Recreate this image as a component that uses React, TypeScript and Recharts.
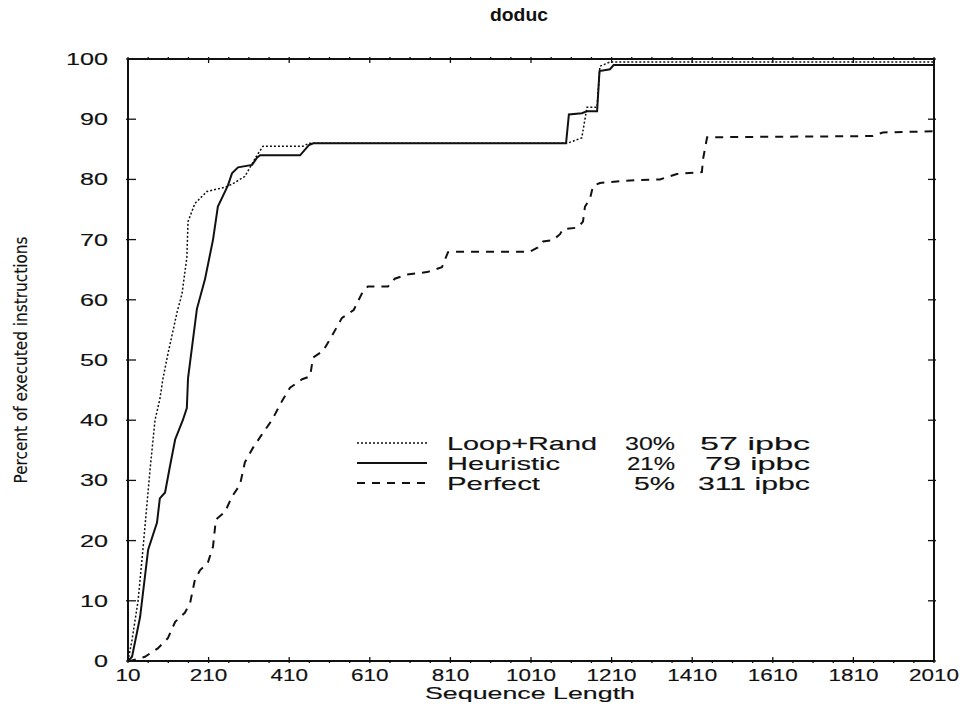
import { LineChart, Line, XAxis, YAxis } from 'recharts'

// [sequence length, percent of executed instructions]
const loopRand: [number, number][] = [
  [10, 0], [20, 3.5], [35, 10], [47, 18.5], [65, 32], [77, 40], [89, 43.5], [97, 47],
  [109, 51], [132, 58], [144, 61], [156, 67], [159, 73], [176, 76], [206, 78], [251, 78.7],
  [268, 79.2], [300, 80.5], [330, 84], [345, 85.5], [444, 85.5], [459, 86], [1100, 86],
  [1136, 86.9], [1149, 92], [1174, 92], [1181, 98.8], [1206, 99.5], [2010, 99.5],
]

const heuristic: [number, number][] = [
  [10, 0], [20, 0.7], [40, 7.3], [60, 18.5], [82, 23], [89, 27], [102, 28], [114, 32.3],
  [127, 36.8], [146, 40], [156, 42], [159, 47], [181, 58.5], [201, 63.4], [221, 70],
  [233, 75.5], [251, 78], [258, 79], [268, 81], [283, 82], [318, 82.4], [330, 83.6],
  [338, 84], [437, 84], [459, 85.7], [470, 86], [1097, 86], [1104, 90.8], [1136, 91],
  [1149, 91.3], [1174, 91.3], [1180, 98], [1206, 98.3], [1215, 99], [2010, 99],
]

const perfect: [number, number][] = [
  [10, 0], [15, 0], [52, 0.7], [84, 2.1], [109, 3.8], [127, 6.5], [151, 8], [164, 9.6],
  [176, 13.5], [189, 15.1], [208, 16.3], [221, 19], [228, 23.5], [251, 24.8], [268, 27.3],
  [288, 29.3], [300, 33], [320, 35.4], [342, 37.6], [367, 40], [394, 43.4], [412, 45.4],
  [442, 46.8], [462, 47.3], [469, 50.4], [494, 51.5], [516, 54], [541, 57], [570, 58.3],
  [590, 61], [605, 62.2], [655, 62.2], [672, 63.5], [702, 64.2], [752, 64.6], [789, 65.4],
  [804, 67.9], [826, 68], [1007, 68], [1027, 68.7], [1040, 69.7], [1064, 69.9], [1082, 70.9],
  [1089, 71.7], [1126, 72], [1139, 73], [1144, 75.5], [1156, 76.7], [1164, 78.9], [1181, 79.4],
  [1231, 79.7], [1280, 79.9], [1330, 80], [1372, 80.9], [1434, 81.2], [1437, 83.4], [1447, 87],
  [1858, 87.2], [1883, 87.8], [2010, 88],
]

const xMajorTicks = [10, 210, 410, 610, 810, 1010, 1210, 1410, 1610, 1810, 2010]
const xTicks = Array.from({ length: 41 }, (_, i) => 10 + i * 50)
const yTicks = [0, 10, 20, 30, 40, 50, 60, 70, 80, 90, 100]

const seriesNames = ['Loop+Rand', 'Heuristic', 'Perfect']
const mispredictRates = ['30%', '21%', '5%']
const ipbcLabels = ['57 ipbc', '79 ipbc', '311 ipbc']

// legend look: line style and stretched text widths per row
const legendStyle = [
  { dash: '2 2', width: 1.5, nameW: 150, pctW: 50, ipbcW: 110 },
  { dash: undefined, width: 2, nameW: 113, pctW: 48, ipbcW: 105 },
  { dash: '8 7', width: 2, nameW: 93, pctW: 41, ipbcW: 112 },
]

const toPoints = (rows: [number, number][]) => rows.map(([x, y]) => ({ x, y }))

const INK = '#111'
const FONT = '"Liberation Sans", Arial, Helvetica, sans-serif'
const textInk = { fill: INK, stroke: INK, strokeWidth: 0.15 }

function bottomTick(p: any) {
  const major = xMajorTicks.includes(p.payload.value)
  const label = String(p.payload.value)
  return (
    <g>
      <line x1={p.x} x2={p.x} y1={p.y} y2={p.y - (major ? 6 : 3)} stroke={INK} strokeWidth={1.3} />
      {major && (
        <text x={p.x} y={p.y + 18} textAnchor="middle" fontSize={16} fontFamily={FONT}
          textLength={label.length * 12.5} lengthAdjust="spacingAndGlyphs" {...textInk}>{label}</text>
      )}
    </g>
  )
}

function topTick(p: any) {
  const major = xMajorTicks.includes(p.payload.value)
  return <line x1={p.x} x2={p.x} y1={p.y} y2={p.y + (major ? 6 : 3)} stroke={INK} strokeWidth={1.3} />
}

function leftTick(p: any) {
  const label = String(p.payload.value)
  return (
    <g>
      <line x1={p.x} x2={p.x + 10} y1={p.y} y2={p.y} stroke={INK} strokeWidth={1.3} />
      <text x={p.x - 18} y={p.y + 6} textAnchor="end" fontSize={17} fontFamily={FONT}
        textLength={label.length * 14} lengthAdjust="spacingAndGlyphs" {...textInk}>{label}</text>
    </g>
  )
}

function rightTick(p: any) {
  return <line x1={p.x} x2={p.x - 8} y1={p.y} y2={p.y} stroke={INK} strokeWidth={1.3} />
}

export default function App() {
  return (
    <div style={{ position: 'absolute', left: 0, top: 0, width: 969, height: 704, background: '#fff' }}>
      <LineChart width={969} height={704} margin={{ top: 0, right: 0, bottom: 0, left: 0 }}>
        <XAxis dataKey="x" type="number" domain={[10, 2010]} ticks={xTicks} interval={0}
          height={43} tickSize={0} tickLine={false} tick={bottomTick}
          axisLine={{ stroke: INK, strokeWidth: 2 }} allowDataOverflow
          label={{
            content: () => (
              <text x={530} y={699} textAnchor="middle" fontSize={17} fontFamily={FONT}
                textLength={210} lengthAdjust="spacingAndGlyphs" {...textInk}>Sequence Length</text>
            ),
          }} />
        <XAxis xAxisId="top" orientation="top" dataKey="x" type="number" domain={[10, 2010]}
          ticks={xTicks} interval={0} height={59} tickSize={0} tickLine={false} tick={topTick}
          axisLine={{ stroke: INK, strokeWidth: 2 }} allowDataOverflow
          label={{
            content: () => (
              <text x={519} y={21} textAnchor="middle" fontSize={18} fontWeight="bold" fontFamily={FONT}
                textLength={58} lengthAdjust="spacingAndGlyphs" fill={INK}>doduc</text>
            ),
          }} />
        <YAxis type="number" domain={[0, 100]} ticks={yTicks} interval={0} width={128}
          tickSize={0} tickLine={false} tick={leftTick}
          axisLine={{ stroke: INK, strokeWidth: 2 }} allowDataOverflow
          label={{
            content: (lp: any) => {
              const vb = lp.viewBox
              return (
                <text transform={`translate(27, ${vb.y + vb.height / 2}) rotate(-90)`}
                  textAnchor="middle" fontSize={17} textLength={247}
                  lengthAdjust="spacingAndGlyphs" {...textInk}
                  fontFamily='"Liberation Sans Narrow", "DejaVu Sans Condensed", sans-serif'>
                  Percent of executed instructions
                </text>
              )
            },
          }} />
        <YAxis yAxisId="right" orientation="right" type="number" domain={[0, 100]} ticks={yTicks}
          interval={0} width={35} tickSize={0} tickLine={false} tick={rightTick}
          axisLine={{ stroke: INK, strokeWidth: 2 }} allowDataOverflow />

        <Line data={toPoints(loopRand)} dataKey="y" name={seriesNames[0]} type="linear" stroke={INK}
          strokeWidth={1.5} strokeDasharray="2 2" dot={false} isAnimationActive={false} />
        <Line data={toPoints(heuristic)} dataKey="y" name={seriesNames[1]} type="linear" stroke={INK}
          strokeWidth={2} dot={false} isAnimationActive={false} />
        <Line data={toPoints(perfect)} dataKey="y" name={seriesNames[2]} type="linear" stroke={INK}
          strokeWidth={2} strokeDasharray="8 7" dot={false} isAnimationActive={false}
          xAxisId="top" yAxisId="right" />
      </LineChart>

      <svg style={{ position: 'absolute', left: 350, top: 430 }} width={470} height={66}>
        {seriesNames.map((name, i) => {
          const s = legendStyle[i]
          const cy = 13 + i * 20
          return (
            <g key={name}>
              <line x1={7} x2={77} y1={cy} y2={cy} stroke={INK} strokeWidth={s.width}
                strokeDasharray={s.dash} />
              <text x={97} y={cy + 7} fontSize={19} fontFamily={FONT} {...textInk}
                textLength={s.nameW} lengthAdjust="spacingAndGlyphs">{name}</text>
              <text x={325} y={cy + 7} fontSize={19} fontFamily={FONT} {...textInk} textAnchor="end"
                textLength={s.pctW} lengthAdjust="spacingAndGlyphs">{mispredictRates[i]}</text>
              <text x={460} y={cy + 7} fontSize={19} fontFamily={FONT} {...textInk} textAnchor="end"
                textLength={s.ipbcW} lengthAdjust="spacingAndGlyphs">{ipbcLabels[i]}</text>
            </g>
          )
        })}
      </svg>
    </div>
  )
}
